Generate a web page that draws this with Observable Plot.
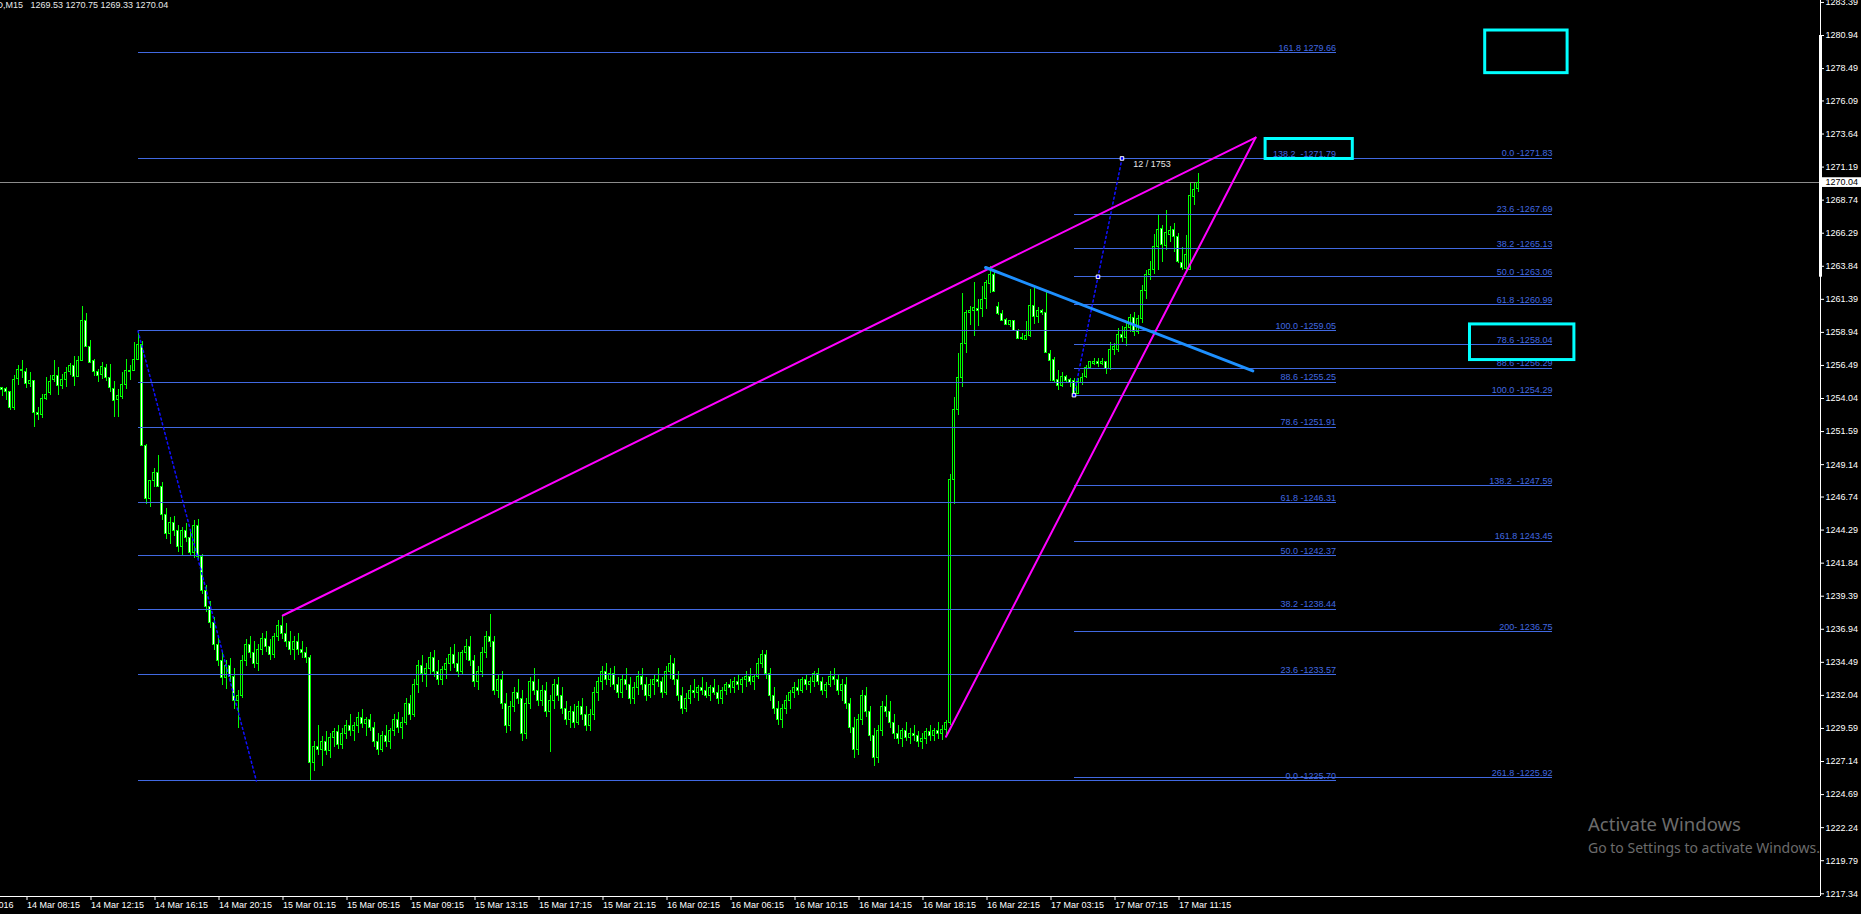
<!DOCTYPE html>
<html>
<head>
<meta charset="utf-8">
<script src="https://cdn.jsdelivr.net/npm/d3@7"></script>
<script src="https://cdn.jsdelivr.net/npm/@observablehq/plot@0.6"></script>
<style>
  html, body { margin: 0; padding: 0; background: #000; overflow: hidden; }
  #chart { position: relative; width: 1861px; height: 914px; }
  svg text { white-space: pre; }
  .wm { position: absolute; left: 1588px; color: #6c6c6c; font-family: "Noto Sans", "Open Sans", sans-serif; line-height: 1; white-space: nowrap; pointer-events: none; }
</style>
</head>
<body>
<div id="chart">
  <div class="wm" style="top:815px;font-size:18.5px">Activate Windows</div>
  <div class="wm" style="top:841px;font-size:14px">Go to Settings to activate Windows.</div>
</div>
<script>
// XAUUSD M15 candles, [open, high, low, close], one array per trading day
const mar14 = [
  [1254.83,1254.88,1254.19,1254.68],[1254.71,1254.88,1253.89,1254.53],[1254.53,1254.53,1253.15,1253.35],
  [1253.35,1255.74,1253.15,1255.42],[1255.50,1256.49,1255.00,1256.17],[1256.07,1256.86,1255.50,1256.19],
  [1256.02,1256.24,1254.81,1255.13],[1255.13,1255.97,1254.88,1255.37],[1255.35,1255.35,1251.92,1252.98],
  [1252.98,1253.40,1252.41,1252.83],[1252.83,1254.34,1252.53,1254.02],[1254.02,1255.57,1253.89,1254.31],
  [1254.46,1255.74,1254.26,1255.28],[1255.42,1256.86,1255.25,1255.72],[1255.72,1256.31,1254.26,1254.98],
  [1254.95,1255.82,1254.71,1255.42],[1255.42,1256.31,1254.88,1255.94],[1255.97,1256.61,1255.74,1256.46],
  [1256.46,1257.15,1254.93,1255.62],[1255.62,1257.15,1255.62,1256.83],[1256.83,1260.86,1256.83,1259.80],
  [1259.80,1260.31,1257.80,1257.84],[1257.84,1258.34,1256.66,1256.68],[1256.83,1256.91,1255.67,1255.99],
  [1256.02,1256.17,1255.25,1255.72],[1255.77,1256.73,1255.42,1256.36],[1256.31,1256.56,1255.28,1255.57],
  [1255.57,1256.56,1254.51,1254.83],[1254.76,1255.30,1252.66,1253.84],[1253.94,1254.68,1252.66,1254.19],
  [1254.14,1255.97,1253.99,1255.05],[1255.05,1256.93,1254.68,1256.09],[1256.09,1256.49,1255.37,1256.02],
  [1256.07,1258.22,1256.07,1256.91],[1256.91,1259.05,1256.86,1258.04],[1258.04,1258.29,1250.53,1250.53],
  [1250.53,1250.60,1246.20,1246.60],[1246.60,1248.00,1246.00,1247.90],[1247.90,1248.83,1247.47,1248.50],
  [1248.50,1249.83,1247.47,1247.50],[1247.50,1247.80,1245.00,1245.40],[1245.40,1245.90,1243.60,1244.00],
  [1244.00,1245.20,1243.20,1244.80],[1244.80,1245.30,1243.80,1244.20],[1244.20,1244.60,1242.60,1243.00],
  [1243.00,1244.50,1242.40,1244.20],[1244.20,1244.80,1243.40,1243.70],[1243.70,1244.30,1242.30,1242.60],
  [1242.60,1245.00,1242.20,1244.60],[1244.60,1245.10,1242.00,1242.30],[1242.30,1242.50,1239.50,1239.80],
  [1239.80,1240.20,1238.20,1238.60],[1238.60,1239.00,1237.00,1237.40],[1237.40,1237.80,1235.40,1235.80],
  [1235.80,1236.40,1234.20,1234.60],[1234.60,1235.20,1232.80,1233.30],[1233.30,1234.60,1232.50,1234.20],
  [1234.20,1234.80,1233.00,1233.40],[1233.40,1234.00,1231.00,1231.60],[1231.60,1232.40,1229.60,1232.00],
  [1232.00,1235.00,1231.80,1234.60],[1234.60,1236.20,1234.20,1235.80],[1235.80,1236.40,1234.80,1235.20],
  [1235.20,1236.00,1234.00,1234.40],[1234.40,1235.80,1233.80,1235.40],[1235.40,1236.60,1235.00,1236.20],
  [1236.20,1236.80,1235.20,1235.60],[1235.60,1236.20,1234.60,1235.00],[1235.00,1236.60,1234.80,1236.40]
];
const mar15 = [
  [1236.40,1237.60,1236.00,1237.20],[1237.20,1237.96,1236.20,1236.60],[1236.60,1237.40,1235.60,1236.00],
  [1236.00,1236.80,1235.00,1235.40],[1235.40,1236.40,1234.60,1236.00],[1236.00,1236.60,1235.00,1235.40],
  [1235.40,1236.00,1234.80,1235.20],[1235.20,1235.60,1234.40,1234.80],[1234.80,1235.00,1225.70,1227.00],
  [1227.00,1228.60,1226.40,1228.20],[1228.20,1229.80,1227.60,1228.00],[1228.00,1229.00,1226.80,1228.60],
  [1228.60,1229.40,1227.60,1227.90],[1227.90,1229.20,1227.40,1228.90],[1228.90,1229.60,1228.20,1229.30],
  [1229.30,1229.80,1228.00,1228.40],[1228.40,1229.60,1228.00,1229.20],[1229.20,1230.20,1228.80,1229.80],
  [1229.80,1230.60,1229.00,1229.40],[1229.40,1230.00,1228.60,1229.80],[1229.80,1230.80,1229.20,1230.40],
  [1230.40,1231.00,1229.60,1229.90],[1229.90,1230.40,1229.00,1230.20],[1230.20,1230.60,1229.40,1229.60],
  [1229.60,1230.00,1228.20,1228.60],[1228.60,1229.20,1227.60,1228.00],[1228.00,1229.40,1227.80,1229.00],
  [1229.00,1229.80,1228.20,1228.60],[1228.60,1229.60,1228.00,1229.40],[1229.40,1230.60,1229.00,1230.20],
  [1230.20,1230.80,1229.20,1229.60],[1229.60,1230.40,1228.80,1230.00],[1230.00,1231.80,1229.80,1231.40],
  [1231.40,1232.00,1230.20,1230.60],[1230.60,1233.20,1230.40,1232.80],[1232.80,1234.60,1232.20,1234.20],
  [1234.20,1235.00,1233.00,1233.60],[1233.60,1234.40,1232.60,1234.00],[1234.00,1235.20,1233.60,1234.80],
  [1234.80,1235.40,1233.40,1233.80],[1233.80,1234.60,1232.80,1233.20],[1233.20,1234.20,1232.80,1233.90],
  [1233.90,1234.80,1233.20,1234.40],[1234.40,1235.60,1233.80,1235.00],[1235.00,1235.80,1234.00,1234.40],
  [1234.40,1235.20,1233.40,1233.80],[1233.80,1235.40,1233.60,1235.20],[1235.20,1236.20,1234.60,1235.60],
  [1235.60,1236.40,1234.20,1234.60],[1234.60,1235.00,1232.60,1233.00],[1233.00,1234.20,1232.40,1233.80],
  [1233.80,1235.60,1233.40,1235.20],[1235.20,1236.80,1234.80,1236.40],[1236.40,1238.00,1235.60,1236.00],
  [1236.00,1236.40,1232.00,1232.40],[1232.40,1233.60,1231.80,1233.20],[1233.20,1233.80,1231.00,1231.40],
  [1231.40,1232.20,1229.20,1229.80],[1229.80,1231.60,1229.40,1231.20],[1231.20,1232.60,1230.80,1232.20],
  [1232.20,1233.20,1231.40,1231.80],[1231.80,1232.40,1228.60,1229.20],[1229.20,1231.80,1228.80,1231.40],
  [1231.40,1233.40,1231.00,1233.00],[1233.00,1234.00,1232.00,1232.40],[1232.40,1233.20,1231.20,1231.60],
  [1231.60,1232.80,1231.20,1232.40],[1232.40,1233.00,1230.40,1230.80],[1230.80,1232.00,1227.80,1231.60],
  [1231.60,1233.20,1231.00,1232.80],[1232.80,1233.40,1231.60,1232.00],[1232.00,1232.60,1230.60,1231.00],
  [1231.00,1231.60,1229.80,1230.20],[1230.20,1231.20,1229.60,1230.80],[1230.80,1231.40,1229.60,1230.00],
  [1230.00,1231.60,1229.80,1231.20],[1231.20,1231.80,1230.20,1230.60],[1230.60,1231.20,1229.40,1229.80],
  [1229.80,1231.00,1229.40,1230.60],[1230.60,1232.60,1230.20,1232.20],[1232.20,1233.40,1231.60,1233.00],
  [1233.00,1234.20,1232.40,1233.80],[1233.80,1234.40,1232.80,1233.20],[1233.20,1234.00,1232.60,1233.60],
  [1233.60,1234.20,1232.40,1232.80],[1232.80,1233.40,1231.80,1232.20],[1232.20,1233.60,1231.80,1233.20],
  [1233.20,1234.00,1232.40,1232.80],[1232.80,1233.40,1231.40,1231.80],[1231.80,1233.00,1231.40,1232.60],
  [1232.60,1233.80,1232.00,1233.40],[1233.40,1234.00,1232.40,1232.80]
];
const mar16 = [
  [1232.80,1233.40,1231.60,1232.00],[1232.00,1233.20,1231.80,1232.80],[1232.80,1233.60,1232.00,1233.20],
  [1233.20,1234.00,1232.60,1233.00],[1233.00,1233.40,1231.80,1232.20],[1232.20,1234.20,1232.00,1233.80],
  [1233.80,1235.00,1233.20,1234.40],[1234.40,1234.80,1232.80,1233.20],[1233.20,1233.80,1231.60,1232.00],
  [1232.00,1232.60,1230.60,1231.00],[1231.00,1232.20,1230.80,1231.80],[1231.80,1232.80,1231.40,1232.40],
  [1232.40,1233.20,1231.80,1232.20],[1232.20,1232.80,1231.60,1232.60],[1232.60,1233.40,1232.00,1232.40],
  [1232.40,1233.00,1231.80,1232.00],[1232.00,1232.80,1231.60,1232.60],[1232.60,1233.20,1232.00,1232.20],
  [1232.20,1232.80,1231.40,1231.80],[1231.80,1232.60,1231.40,1232.40],[1232.40,1233.00,1232.00,1232.80],
  [1232.80,1233.20,1232.20,1232.60],[1232.60,1233.40,1232.20,1233.00],[1233.00,1233.60,1232.40,1232.80],
  [1232.80,1233.40,1232.20,1233.20],[1233.20,1233.80,1232.60,1233.40],[1233.40,1234.00,1232.80,1233.00],
  [1233.00,1233.60,1232.40,1233.40],[1233.40,1234.80,1233.20,1234.40],[1234.40,1235.40,1234.00,1235.00],
  [1235.00,1235.40,1233.20,1233.60],[1233.60,1234.00,1231.60,1232.00],[1232.00,1232.60,1230.60,1231.00],
  [1231.00,1231.60,1229.80,1230.20],[1230.20,1231.40,1229.60,1231.00],[1231.00,1232.00,1230.60,1231.60],
  [1231.60,1232.40,1231.00,1232.20],[1232.20,1233.00,1231.80,1232.60],[1232.60,1233.20,1232.00,1232.40],
  [1232.40,1233.40,1232.20,1233.20],[1233.20,1233.60,1232.40,1232.80],[1232.80,1233.40,1232.20,1233.00],
  [1233.00,1233.80,1232.60,1233.60],[1233.60,1234.00,1232.80,1233.00],[1233.00,1233.40,1232.00,1232.40],
  [1232.40,1233.00,1231.80,1232.80],[1232.80,1233.80,1232.60,1233.40],[1233.40,1234.00,1232.80,1233.20],
  [1233.20,1233.60,1232.00,1232.40],[1232.40,1233.20,1231.60,1232.80],[1232.80,1233.40,1231.00,1231.40],
  [1231.40,1231.80,1229.20,1229.60],[1229.60,1230.40,1227.40,1228.00],[1228.00,1230.60,1227.60,1230.20],
  [1230.20,1232.40,1229.80,1232.00],[1232.00,1232.60,1230.40,1230.80],[1230.80,1231.20,1228.60,1229.00],
  [1229.00,1229.60,1226.80,1227.40],[1227.40,1229.80,1227.00,1229.40],[1229.40,1231.60,1229.00,1231.20],
  [1231.20,1232.00,1230.40,1230.80],[1230.80,1231.60,1229.60,1230.00],[1230.00,1230.60,1228.80,1229.20],
  [1229.20,1229.80,1228.40,1228.80],[1228.80,1229.60,1228.20,1229.40],[1229.40,1230.00,1228.60,1228.90],
  [1228.90,1229.60,1228.40,1229.20],[1229.20,1229.80,1228.60,1229.00],[1229.00,1229.40,1228.20,1228.60],
  [1228.60,1229.20,1228.00,1228.80],[1228.80,1229.60,1228.40,1229.30],[1229.30,1229.80,1228.60,1229.00],
  [1229.00,1229.60,1228.60,1229.40],[1229.40,1230.00,1228.80,1229.20],[1229.20,1229.80,1228.70,1229.50],
  [1229.50,1230.20,1228.98,1230.00],[1230.00,1248.40,1229.80,1248.00],[1248.00,1254.14,1246.20,1253.20],
  [1253.20,1257.35,1252.80,1255.55],[1255.55,1261.80,1254.88,1258.09],[1258.09,1260.56,1257.35,1260.41],
  [1260.41,1260.86,1259.45,1260.54],[1260.51,1262.66,1258.64,1260.76],[1260.69,1261.35,1259.38,1260.56],
  [1260.66,1262.34,1260.07,1261.35],[1261.40,1262.78,1260.61,1262.61],[1262.54,1263.82,1261.85,1263.16],
  [1263.16,1263.53,1261.92,1261.92],[1260.81,1261.18,1260.19,1260.27],[1260.27,1260.56,1259.77,1259.82]
];
const mar17 = [
  [1259.87,1259.94,1259.45,1259.52],[1259.52,1259.82,1259.33,1259.82],[1259.75,1259.82,1259.03,1259.08],
  [1259.08,1259.15,1258.39,1258.46],[1258.46,1258.88,1258.34,1258.54],[1258.39,1259.77,1258.34,1258.68],
  [1258.64,1262.09,1258.54,1260.86],[1260.86,1262.29,1259.52,1260.07],[1260.07,1260.81,1259.57,1260.56],
  [1260.56,1260.61,1260.19,1260.41],[1260.41,1261.92,1257.40,1257.40],[1257.35,1257.60,1255.33,1256.81],
  [1256.91,1257.06,1255.25,1255.33],[1255.38,1256.12,1254.63,1254.98],[1254.98,1255.99,1254.88,1255.67],
  [1255.62,1255.75,1255.13,1255.33],[1255.38,1255.55,1254.88,1255.18],[1255.33,1255.50,1254.29,1254.39],
  [1254.39,1255.50,1254.34,1255.25],[1255.18,1255.92,1255.00,1255.57],[1255.62,1256.49,1255.50,1256.31],
  [1256.27,1256.81,1256.17,1256.76],[1256.61,1256.98,1256.49,1256.71],[1256.71,1256.98,1256.36,1256.61],
  [1256.61,1256.98,1256.49,1256.71],[1256.73,1256.81,1255.82,1256.24],[1256.24,1258.22,1256.12,1257.60],
  [1257.60,1258.14,1257.23,1257.85],[1257.60,1259.20,1257.47,1258.71],[1258.71,1259.40,1258.20,1258.50],
  [1258.50,1259.60,1257.90,1259.30],[1259.30,1260.30,1258.90,1260.00],[1260.00,1260.40,1258.60,1259.00],
  [1259.00,1260.20,1258.80,1259.90],[1259.90,1262.40,1259.60,1262.00],[1262.00,1263.50,1261.40,1263.20],
  [1263.20,1264.20,1262.80,1263.60],[1263.60,1266.20,1263.20,1265.30],[1265.26,1267.60,1263.53,1266.54],
  [1266.61,1266.86,1264.15,1265.38],[1265.31,1267.97,1265.01,1266.29],[1266.19,1266.79,1265.63,1266.49],
  [1266.54,1266.98,1264.89,1266.00],[1266.00,1266.24,1264.02,1264.15],[1264.10,1265.26,1263.53,1263.72],
  [1263.65,1266.12,1263.53,1264.64],[1263.53,1270.00,1263.53,1269.01],[1268.96,1270.00,1268.34,1269.50],
  [1269.53,1270.75,1269.33,1270.04]
];

// Bottom time axis: one label every 16 bars
const timeLabels = ["14 Mar 2016","14 Mar 08:15","14 Mar 12:15","14 Mar 16:15","14 Mar 20:15",
  "15 Mar 01:15","15 Mar 05:15","15 Mar 09:15","15 Mar 13:15","15 Mar 17:15","15 Mar 21:15",
  "16 Mar 02:15","16 Mar 06:15","16 Mar 10:15","16 Mar 14:15","16 Mar 18:15","16 Mar 22:15",
  "17 Mar 03:15","17 Mar 07:15","17 Mar 11:15"];
const timeLabelBars = [-10,6,22,38,54,70,86,102,118,134,150,166,182,198,214,230,246,262,278,294];

// Right price axis
const priceTicks = [1283.39,1280.94,1278.49,1276.09,1273.64,1271.19,1268.74,1266.29,1263.84,1261.39,
  1258.94,1256.49,1254.04,1251.59,1249.14,1246.74,1244.29,1241.84,1239.39,1236.94,1234.49,1232.04,
  1229.59,1227.14,1224.69,1222.24,1219.79,1217.34];

// Fibonacci retracement 1 (swing 1259.05 -> 1225.70)
const fibAPrices = [1279.66,1271.79,1259.05,1255.25,1251.91,1246.31,1242.37,1238.44,1233.57,1225.70];
const fibALabels = ["161.8 1279.66","138.2  -1271.79","100.0 -1259.05","88.6 -1255.25","78.6 -1251.91",
  "61.8 -1246.31","50.0 -1242.37","38.2 -1238.44","23.6 -1233.57","0.0 -1225.70"];
const fibASpan = [34, 333.5];
const fibATrend = [[34, 1259.05], [63.6, 1225.70]];

// Fibonacci retracement 2 (swing 1254.29 -> 1271.83)
const fibBPrices = [1271.83,1267.69,1265.13,1263.06,1260.99,1258.04,1256.29,1254.29,1247.59,1243.45,1236.75,1225.92];
const fibBLabels = ["0.0 -1271.83","23.6 -1267.69","38.2 -1265.13","50.0 -1263.06","61.8 -1260.99",
  "78.6 -1258.04","88.6 -1256.29","100.0 -1254.29","138.2  -1247.59","161.8 1243.45","200- 1236.75","261.8 -1225.92"];
const fibBSpan = [268, 387.6];
const fibBTrend = [[268, 1254.29], [280, 1271.83]];
const fibBHandles = [[268, 1254.29], [274, 1263.06], [280, 1271.83]];

// Rising wedge and the falling trendline
const wedgeUpper = [[70.2, 1237.96], [313.4, 1273.38]];
const wedgeLower = [[236, 1228.98], [313.4, 1273.38]];
const fallingLine = [[245.9, 1263.75], [312.7, 1256.09]];

// Highlight rectangles [bar1, bar2, price1, price2]
const boxes = [[370.8, 391.4, 1281.31, 1278.15], [315.9, 337.7, 1273.27, 1271.79], [367.0, 393.1, 1259.53, 1256.89]];

const symbolInfo = "XAUUSD,M15   1269.53 1270.75 1269.33 1270.04";
const rulerText = "12 / 1753";
const rulerAt = [282.8, 1271.16];
const lastPrice = 1270.04;
const markedRange = [1263.03, 1280.94];

const bars = [...mar14, ...mar15, ...mar16, ...mar17].map((d, i) => ({i, open: d[0], high: d[1], low: d[2], close: d[3]}));

const xMin = -0.375, xMax = 454.625;
const yMin = 1217.138, yMax = 1283.534;
const fibBlue = "#4169e1";
const labelAt = new Map(timeLabelBars.map((b, k) => [b, timeLabels[k]]));

const bodyLo = d => Math.min(d.open, d.close);
const bodyHi = d => Math.max(Math.max(d.open, d.close), Math.min(d.open, d.close) + 0.075);

const chart = Plot.plot({
  width: 1861,
  height: 914,
  marginLeft: 0,
  marginRight: 41,
  marginTop: 0,
  marginBottom: 18,
  x: {domain: [xMin, xMax]},
  y: {domain: [yMin, yMax]},
  color: {type: "identity"},
  style: {background: "#000", color: "#fff", fontFamily: "'Liberation Sans', Arial, sans-serif", fontSize: "9px", overflow: "visible"},
  marks: [
    // current bid line
    Plot.ruleY([lastPrice], {stroke: "#8c8c8c", shapeRendering: "crispEdges"}),
    // candles
    Plot.ruleX(bars, {x: "i", y1: "low", y2: "high", stroke: "#00ff00", shapeRendering: "crispEdges"}),
    Plot.rect(bars, {
      x1: d => d.i - 0.25, x2: d => d.i + 0.25, y1: bodyLo, y2: bodyHi,
      fill: d => d.close > d.open ? "#000" : "#fff", stroke: "#00ff00", strokeWidth: 1, shapeRendering: "crispEdges"
    }),
    // fibonacci levels
    Plot.ruleY(fibAPrices, {y: d => d, x1: fibASpan[0], x2: fibASpan[1], stroke: fibBlue, shapeRendering: "crispEdges"}),
    Plot.text(fibAPrices, {x: fibASpan[1], y: d => d, text: (d, k) => fibALabels[k], textAnchor: "end", lineAnchor: "bottom", dy: -2, fill: fibBlue, fontSize: 9}),
    Plot.ruleY(fibBPrices, {y: d => d, x1: fibBSpan[0], x2: fibBSpan[1], stroke: fibBlue, shapeRendering: "crispEdges"}),
    Plot.text(fibBPrices, {x: fibBSpan[1], y: d => d, text: (d, k) => fibBLabels[k], textAnchor: "end", lineAnchor: "bottom", dy: -2, fill: fibBlue, fontSize: 9}),
    Plot.line(fibATrend, {stroke: "#1010ff", strokeDasharray: "2,3"}),
    Plot.line(fibBTrend, {stroke: "#1010ff", strokeDasharray: "2,3"}),
    // wedge and trendline
    Plot.line(wedgeUpper, {stroke: "#ff00ff", strokeWidth: 2}),
    Plot.line(wedgeLower, {stroke: "#ff00ff", strokeWidth: 2}),
    Plot.line(fallingLine, {stroke: "#1e90ff", strokeWidth: 3}),
    Plot.dot(fibBHandles, {x: d => d[0], y: d => d[1], symbol: "square", r: 2, stroke: "#fff", fill: "#0000ff", strokeWidth: 1}),
    // highlight boxes
    Plot.rect(boxes, {x1: d => d[0], x2: d => d[1], y1: d => d[2], y2: d => d[3], fill: "none", stroke: "#00ffff", strokeWidth: 3}),
    // ruler text
    Plot.text([rulerText], {x: rulerAt[0], y: rulerAt[1], text: d => d, textAnchor: "start", lineAnchor: "bottom", fill: "#e8e8e8", fontSize: 9}),
    // symbol / OHLC header
    Plot.text([symbolInfo], {frameAnchor: "top-left", text: d => d, textAnchor: "start", lineAnchor: "top", dx: -35, dy: 1, fill: "#e8e8e8", fontSize: 9}),
    // axes frame
    Plot.ruleX([xMax], {stroke: "#fff", shapeRendering: "crispEdges"}),
    Plot.ruleY([yMin], {stroke: "#fff", shapeRendering: "crispEdges"}),
    Plot.ruleX([xMax], {y1: markedRange[0], y2: markedRange[1], stroke: "#fff", strokeWidth: 3}),
    Plot.axisY(priceTicks, {anchor: "right", tickSize: 3, tickPadding: 2, tickFormat: d => d.toFixed(2), color: "#fff", fontSize: 9, label: null}),
    Plot.axisX(timeLabelBars, {anchor: "bottom", tickSize: 4, tickPadding: 1, tickFormat: d => labelAt.get(d), textAnchor: "start", dx: 1, color: "#fff", fontSize: 9, label: null}),
    // last price tag
    Plot.rect([lastPrice], {x1: xMax, x2: xMax + 10.25, y1: d => d - 0.36, y2: d => d + 0.36, fill: "#fff"}),
    Plot.text([lastPrice], {x: xMax, y: d => d, text: d => d.toFixed(2), textAnchor: "start", dx: 5, fill: "#000", fontSize: 9})
  ]
});

document.getElementById("chart").prepend(chart);
</script>
</body>
</html>
